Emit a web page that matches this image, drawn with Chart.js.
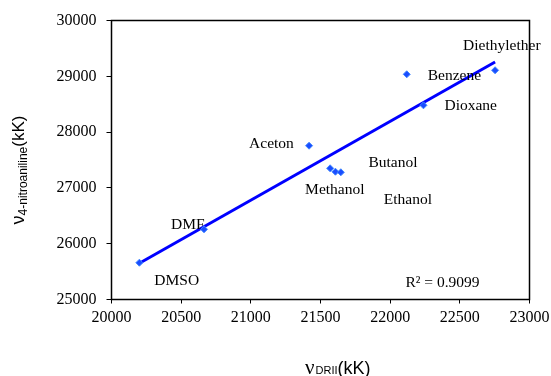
<!DOCTYPE html>
<html><head><meta charset="utf-8">
<script src="https://cdn.jsdelivr.net/npm/chart.js@4"></script>
<style>html,body{margin:0;padding:0;background:#fff}#wrap{width:551px;height:376px}</style>
</head><body><div id="wrap"><canvas id="c" width="551" height="376"></canvas></div>
<script>
// Data
const solvents = ["DMSO","DMF","Aceton","Methanol","Butanol","Ethanol","Benzene","Dioxane","Diethylether"];
const nuDRII = [20200, 20664, 21418, 21569, 21607, 21646, 22119, 22239, 22753];
const nuNitroaniline = [25659, 26258, 27756, 27351, 27290, 27280, 29036, 28480, 29108];
const trendX = [20200, 22753];
const trendY = [25649, 29256];
const rSquaredText = "R² = 0.9099";
const xTicks = [20000, 20500, 21000, 21500, 22000, 22500, 23000];
const yTicks = [25000, 26000, 27000, 28000, 29000, 30000];

// label offsets (pixels, styling only)
const labelOffsets = [[15,18],[-33,-4],[-60,-2],[-25,22],[33,-9],[43,28],[21,2],[21,1],[-32,-24]];

const SERIF = "'Liberation Serif', 'Times New Roman', serif";
const SANS = "'Liberation Sans', Arial, sans-serif";

const decor = {
  id: 'decor',
  afterDraw(chart) {
    const ctx = chart.ctx, a = chart.chartArea;
    const xs = chart.scales.x, ys = chart.scales.y;
    ctx.save();
    ctx.strokeStyle = '#000'; ctx.lineWidth = 1.5;
    ctx.strokeRect(a.left, a.top, a.right - a.left, a.bottom - a.top);
    // point labels
    ctx.fillStyle = '#000';
    ctx.font = '15.5px ' + SERIF;
    ctx.textAlign = 'left'; ctx.textBaseline = 'middle';
    solvents.forEach((s, i) => {
      const px = xs.getPixelForValue(nuDRII[i]), py = ys.getPixelForValue(nuNitroaniline[i]);
      ctx.fillText(s, px + labelOffsets[i][0], py + labelOffsets[i][1]);
    });
    ctx.fillText(rSquaredText, a.right - 124, a.bottom - 17);
    // x axis title
    let x = 305, y = 368;
    ctx.textBaseline = 'alphabetic';
    ctx.font = '21px ' + SERIF; ctx.fillText('ν', x, y + 6); x += ctx.measureText('ν').width + 1;
    ctx.font = '11px ' + SANS; ctx.fillText('DRII', x, y + 6); x += ctx.measureText('DRII').width;
    ctx.font = '18px ' + SANS; ctx.fillText('(kK)', x, y + 6);
    // y axis title
    ctx.translate(18, 170); ctx.rotate(-Math.PI / 2);
    const p1 = 'ν', p2 = '4-nitroaniline', p3 = '(kK)';
    ctx.font = '18px ' + SANS; const w1 = ctx.measureText(p1).width;
    ctx.font = '12px ' + SANS; const w2 = ctx.measureText(p2).width;
    ctx.font = '17px ' + SANS; const w3 = ctx.measureText(p3).width;
    let t = -(w1 + w2 + w3) / 2;
    ctx.font = '18px ' + SANS; ctx.fillText(p1, t, 6); t += w1;
    ctx.font = '12px ' + SANS; ctx.fillText(p2, t, 9); t += w2;
    ctx.font = '17px ' + SANS; ctx.fillText(p3, t, 6);
    ctx.restore();
  }
};

new Chart(document.getElementById('c'), {
  type: 'scatter',
  data: {
    datasets: [
      {
        data: nuDRII.map((v, i) => ({x: v, y: nuNitroaniline[i]})),
        pointStyle: 'rectRot', pointRadius: 3.5, pointHoverRadius: 3.5,
        backgroundColor: '#1a4dff', borderColor: '#3f86ff', borderWidth: 1, showLine: false
      },
      {
        data: trendX.map((v, i) => ({x: v, y: trendY[i]})),
        showLine: true, borderColor: '#0000ff', borderWidth: 3, pointRadius: 0, fill: false
      }
    ]
  },
  options: {
    responsive: false, animation: false, devicePixelRatio: 1,
    layout: {padding: {top: 20.5, right: 21.5, left: 0, bottom: 0}},
    plugins: {legend: {display: false}, tooltip: {enabled: false}},
    scales: {
      x: {
        type: 'linear', min: 20000, max: 23000,
        afterBuildTicks: s => { s.ticks = xTicks.map(v => ({value: v})); },
        afterFit: s => { s.height = 76.5; s.paddingLeft = 0; s.paddingRight = 0; },
        grid: {drawOnChartArea: false, drawTicks: true, tickLength: 4, color: '#000', lineWidth: 1},
        border: {display: false},
        ticks: {color: '#000', font: {family: SERIF, size: 16}, padding: 5, maxRotation: 0, callback: v => String(v)}
      },
      y: {
        type: 'linear', min: 25000, max: 30000,
        afterBuildTicks: s => { s.ticks = yTicks.map(v => ({value: v})); },
        afterFit: s => { s.width = 111.5; s.paddingTop = 0; s.paddingBottom = 0; },
        grid: {drawOnChartArea: false, drawTicks: true, tickLength: 5, color: '#000', lineWidth: 1},
        border: {display: false},
        ticks: {color: '#000', font: {family: SERIF, size: 16}, padding: 10, callback: v => String(v)}
      }
    }
  },
  plugins: [decor]
});
</script></body></html>
